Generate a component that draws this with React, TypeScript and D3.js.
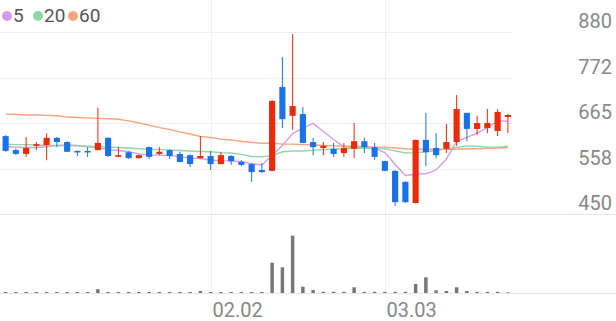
import React from "react";
import * as d3 from "d3";

const opens = [634, 601, 592, 611, 613, 630, 620, 599, 599, 601, 630, 585, 596, 582, 608, 592, 601, 592, 589, 582, 587, 568, 587, 573, 568, 554, 552, 750, 682, 686, 620, 606, 604, 594, 604, 622, 608, 575, 552, 526, 476, 625, 606, 604, 620, 689, 651, 653, 646, 679];
const highs = [636, 605, 632, 620, 641, 632, 622, 600, 608, 701, 631, 608, 598, 591, 610, 608, 603, 597, 591, 634, 599, 597, 589, 577, 570, 570, 719, 821, 875, 703, 630, 620, 618, 618, 665, 630, 618, 576, 553, 527, 626, 689, 641, 663, 731, 689, 682, 698, 698, 686];
const lows = [597, 589, 585, 601, 577, 608, 596, 587, 585, 600, 585, 584, 580, 581, 580, 589, 580, 572, 561, 581, 554, 567, 566, 563, 526, 547, 551, 653, 649, 617, 589, 589, 585, 585, 582, 594, 578, 551, 469, 476, 475, 563, 582, 594, 611, 622, 637, 641, 634, 641];
const closes = [599, 592, 606, 615, 630, 620, 597, 596, 597, 618, 587, 589, 582, 589, 585, 597, 587, 573, 568, 587, 568, 589, 575, 566, 549, 549, 717, 674, 705, 618, 608, 611, 592, 606, 622, 608, 585, 552, 478, 478, 625, 596, 589, 620, 698, 651, 665, 665, 691, 684];
const volumes = [150000, 150000, 150000, 150000, 150000, 150000, 150000, 150000, 150000, 430000, 150000, 150000, 150000, 150000, 150000, 150000, 150000, 150000, 150000, 250000, 150000, 150000, 150000, 150000, 150000, 150000, 3080000, 2620000, 5780000, 680000, 350000, 170000, 170000, 170000, 620000, 170000, 170000, 170000, 170000, 170000, 950000, 1620000, 320000, 250000, 620000, 250000, 170000, 170000, 170000, 120000];
const ma5 = [609, 608, 607, 607, 609, 612, 613, 612, 609, 607, 602, 600, 597, 592, 589, 589, 588, 586, 582, 581, 577, 576, 575, 574, 569, 566, 588, 612, 640, 653, 664, 645, 626, 609, 607, 607, 605, 595, 567, 541, 544, 545, 554, 580, 621, 631, 641, 654, 670, 669];
const ma20 = [615, 614, 614, 613, 612, 612, 611, 611, 610, 609, 608, 607, 606, 604, 603, 602, 601, 600, 599, 598, 597, 595, 594, 591, 586, 585, 588, 597, 599, 599, 601, 602, 603, 604, 605, 606, 605, 604, 599, 594, 595, 597, 600, 604, 607, 611, 610, 608, 608, 610];
const ma60 = [686, 685, 684, 684, 683, 682, 679, 678, 677, 676, 675, 674, 670, 665, 660, 654, 650, 644, 639, 633, 631, 627, 625, 622, 619, 617, 617, 615, 615, 614, 613, 612, 611, 610, 610, 609, 608, 608, 606, 604, 603, 603, 603, 603, 603, 604, 604, 605, 606, 607];

const yTickValues = [880, 772.5, 665, 557.5, 450];
const yTickLabels = ["880", "772", "665", "558", "450"];
const xTickIndex = [20, 37];
const xTickLabels = ["02.02", "03.03"];
const legendNames = ["5", "20", "60"];

const W = 616;
const H = 321;
const UP = "#ec2a0a";
const DOWN = "#1a72ea";
const MA_COLORS = ["#d79bea", "#8dd8a3", "#f8a47c"];
const FONT = "Roboto, 'Noto Sans', sans-serif";

export default function App() {
  const idx = closes.map((_, i) => i);
  const x = d3
    .scaleBand<number>()
    .domain(idx)
    .range([0.5, 513])
    .paddingInner(0.4)
    .paddingOuter(0.2);
  const step = x.step();
  const cx = (i: number) => (x(i) as number) + x.bandwidth() / 2;
  const y = d3.scaleLinear().domain([450, 880]).range([214, 32]);
  const yv = d3.scaleLinear().domain([0, 6000000]).range([293.5, 233.5]);

  const line = d3
    .line<number>()
    .x((_, i) => cx(i))
    .y((d) => y(d));

  const mas = [ma5, ma20, ma60];
  const bw = x.bandwidth();
  const vw = step * 0.34;

  return (
    <svg
      width={W}
      height={H}
      style={{ position: "absolute", left: 0, top: 0, background: "#fff" }}
      fontFamily={FONT}
    >
      {/* vertical grid */}
      {xTickIndex.map((ti, k) => {
        const gx = Math.round(cx(ti)) + 0.5;
        return (
          <g key={"vx" + k}>
            <line x1={gx} x2={gx} y1={0} y2={293} stroke="#f0f0f0" strokeWidth={1} />
            <text x={gx + 1} y={317} fontSize={20} fill="#888" textAnchor="start">
              {xTickLabels[k]}
            </text>
          </g>
        );
      })}
      {/* horizontal grid */}
      {yTickValues.map((v, k) => {
        const gy = Math.round(y(v)) + 0.5;
        const last = k === yTickValues.length - 1;
        return (
          <g key={"hy" + k}>
            <line
              x1={0}
              x2={last ? W : 513}
              y1={gy}
              y2={gy}
              stroke={last ? "#e6e6e6" : "#f0f0f0"}
              strokeWidth={1}
            />
            <text x={612} y={gy - 5} fontSize={20} fill="#888" textAnchor="end">
              {yTickLabels[k]}
            </text>
          </g>
        );
      })}
      {/* volume baseline */}
      <line x1={0} x2={W} y1={293.5} y2={293.5} stroke="#e6e6e6" strokeWidth={1} />
      {/* volume bars */}
      {volumes.map((v, i) => (
        <rect
          key={"v" + i}
          x={cx(i) - vw / 2}
          y={yv(v)}
          width={vw}
          height={293 - yv(v)}
          fill="#777"
        />
      ))}
      {/* moving averages */}
      {mas.map((m, k) => (
        <path
          key={"ma" + k}
          d={line(m) as string}
          fill="none"
          stroke={MA_COLORS[k]}
          strokeWidth={1.4}
        />
      ))}
      {/* candles */}
      {closes.map((c, i) => {
        const o = opens[i];
        const up = c >= o;
        const col = up ? UP : DOWN;
        const top = y(Math.max(o, c));
        const bot = y(Math.min(o, c));
        const xc = cx(i);
        return (
          <g key={"c" + i}>
            <line x1={xc} x2={xc} y1={y(highs[i])} y2={y(lows[i])} stroke={col} strokeWidth={1} />
            <rect x={xc - bw / 2} y={top} width={bw} height={Math.max(1.5, bot - top)} fill={col} />
          </g>
        );
      })}
      {/* legend */}
      {legendNames.map((n, k) => {
        const offs = [7, 38, 73];
        return (
          <g key={"lg" + k}>
            <circle cx={offs[k]} cy={16} r={5} fill={MA_COLORS[k]} />
            <text x={offs[k] + 6} y={22} fontSize={19} fill="#555">
              {n}
            </text>
          </g>
        );
      })}
    </svg>
  );
}
